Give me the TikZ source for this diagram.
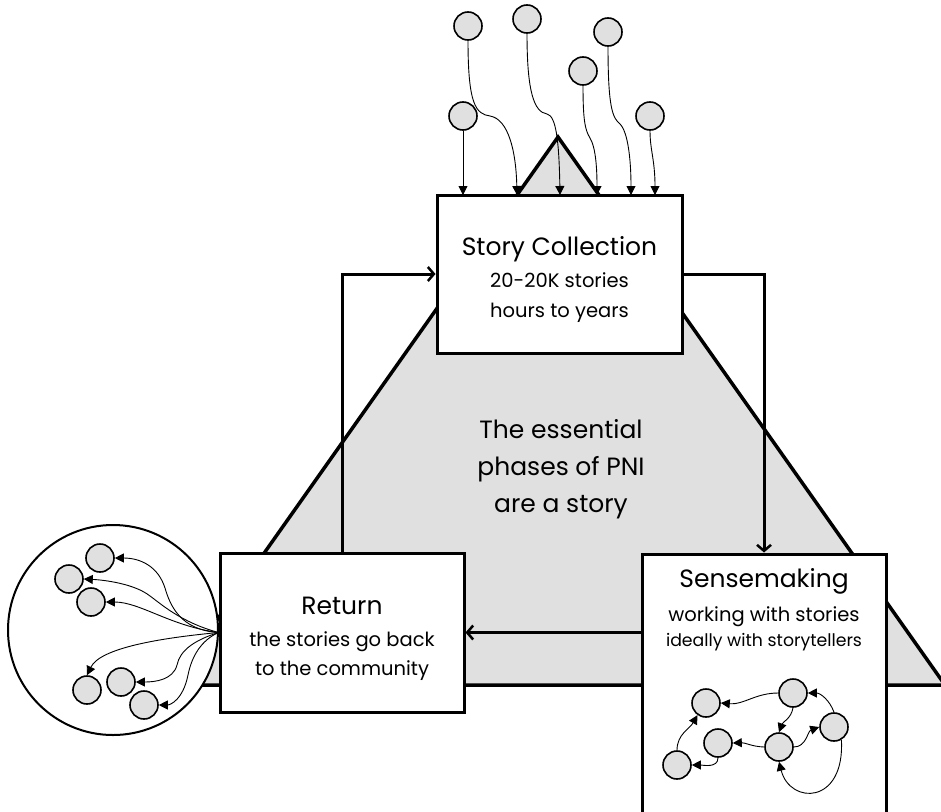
\documentclass[tikz,border=0pt]{standalone}
\usepackage{fontspec}
\setmainfont{Poppins}
\usetikzlibrary{arrows.meta,calc}
\definecolor{fillgray}{RGB}{224,224,224}
\tikzset{
  phasebox/.style={draw=black, fill=white, line width=3pt, rectangle, inner sep=0pt},
  flow/.style={line width=3pt, -{Straight Barb[length=6pt,width=14pt,line width=2.5pt]}},
  story/.style={circle, draw=black, line width=1.6pt, fill=fillgray, minimum size=28pt, inner sep=0pt},
  tell/.style={line width=0.9pt, -{Triangle[length=9pt,width=9pt]}},
  title/.style={anchor=base, inner sep=0pt, font=\fontsize{25}{30}\selectfont},
  detail/.style={anchor=base, inner sep=0pt, font=\fontsize{19.5}{24}\selectfont},
  centreline/.style={anchor=base, inner sep=0pt, font=\fontsize{25}{30}\selectfont},
}
\begin{document}
\begin{tikzpicture}[x=1pt,y=-1pt]
\useasboundingbox (0,0) rectangle (941,811);
\begin{scope}
\clip (0,0) rectangle (941,811);

% the large triangle behind everything
\draw[line width=3.5pt, fill=fillgray, line join=miter] (171,685) -- (558,137) -- (945,685) -- cycle;

% community circle on the left
\node[circle, draw=black, fill=white, line width=2pt, minimum size=210pt, inner sep=0pt] (comm) at (113,630) {};

% the three phase boxes
\node[phasebox, minimum width=245pt, minimum height=158pt] (sc) at (559.5,274) {};
\node[phasebox, minimum width=244pt, minimum height=159pt] (ret) at (342,632.5) {};
\node[phasebox, minimum width=244pt, minimum height=300pt] (sm) at (764,704) {};

% box texts
\node[title]  (sc1) at ($(sc.center)+(0,-19)$) {Story Collection};
\node[detail] (sc2) at ($(sc.center)+(0,13)$) {20-20K stories};
\node[detail] (sc3) at ($(sc.center)+(0,43)$) {hours to years};
\node[title]  (ret1) at ($(ret.center)+(0,-18.5)$) {Return};
\node[detail] (ret2) at ($(ret.center)+(0,13.5)$) {the stories go back};
\node[detail] (ret3) at ($(ret.center)+(0,42.5)$) {to the community};
\node[title]  (sm1) at ($(sm.north)+(0,35)$) {Sensemaking};
\node[detail] (sm2) at ($(sm.north)+(0,69)$) {working with stories};
\node[detail, font=\fontsize{17.3}{22}\selectfont] (sm3) at ($(sm.north)+(0,94)$) {ideally with storytellers};

% centre text
\node[centreline] (c1) at (561,438) {The essential};
\node[centreline] (c2) at (561,475) {phases of PNI};
\node[centreline] (c3) at (561,512) {are a story};

% flow between the phases
\draw[flow] (sc.east) -| (sm.north);
\draw[flow] (sm.west |- ret.east) -- (ret.east);
\draw[flow] (ret.north) |- (sc.west);

% stories arriving at collection
\node[story] (t1) at (468,26) {};
\node[story] (t2) at (527,19) {};
\node[story] (t3) at (608,32) {};
\node[story] (t4) at (583,71) {};
\node[story] (t5) at (463,116) {};
\node[story] (t6) at (650,116) {};
\coordinate (e1) at (463,195);
\coordinate (e2) at (517,195);
\coordinate (e3) at (560,195);
\coordinate (e4) at (597,195);
\coordinate (e5) at (631,195);
\coordinate (e6) at (655,195);
\draw[tell] (t5.south) -- (e1);
\draw[tell] (t1.south) .. controls (468,105) and (476,114) .. (490,116) .. controls (508,119) and (516,150) .. (e2);
\draw[tell] (t2.south) .. controls (527,92) and (534,112) .. (547,114) .. controls (556,116) and (559,140) .. (e3);
\draw[tell] (t4.south) .. controls (583,120) and (585,130) .. (590,138) .. controls (596,148) and (597,170) .. (e4);
\draw[tell] (t3.south) .. controls (608,110) and (613,118) .. (620,124) .. controls (628,132) and (631,160) .. (e5);
\draw[tell] (t6.south) .. controls (650,150) and (655,160) .. (e6);

% stories going back to the community
\node[story] (ca) at (100,558) {};
\node[story] (cb) at (69,579) {};
\node[story] (cc) at (91,602) {};
\node[story] (cd) at (87,690) {};
\node[story] (ce) at (121,682) {};
\node[story] (cf) at (144,705) {};
\draw[tell] (ret.west) .. controls (180,630) and (170,605) .. (165,588) .. controls (158,566) and (140,558) .. (ca.east);
\draw[tell] (ret.west) .. controls (180,622) and (160,603) .. (150,596) .. controls (135,584) and (105,580) .. (cb.east);
\draw[tell] (ret.west) .. controls (170,626) and (140,602) .. (cc.east);
\draw[tell] (ret.west) .. controls (160,638) and (100,648) .. (cd.north);
\draw[tell] (ret.west) .. controls (195,640) and (180,650) .. (177,665) .. controls (173,680) and (155,682) .. (ce.east);
\draw[tell] (ret.west) .. controls (202,640) and (192,655) .. (188,675) .. controls (183,700) and (170,705) .. (cf.east);

% stories being worked with in sensemaking
\node[story] (s1) at (706,703) {};
\node[story] (s2) at (793,693) {};
\node[story] (s3) at (834,727) {};
\node[story] (s4) at (718,743) {};
\node[story] (s5) at (779,747) {};
\node[story] (s6) at (677,765) {};
\draw[tell] (s2.west) to[out=180,in=-5] (s1.east);
\draw[tell] (s2.south) to[out=-100,in=70] (s5.north);
\draw[tell] (s5.west) to[out=178,in=2] (s4.east);
\draw[tell] (s5.east) to[out=0,in=200] (s3.west);
\draw[tell] (s3.north) to[out=110,in=0] (s2.east);
\draw[tell] (s3.-60) .. controls (845,805) and (790,805) .. (s5.south);
\draw[tell] (s4.south) to[out=-90,in=0] (s6.east);
\draw[tell] (s6.north) to[out=90,in=-120] (s1.-125);
\end{scope}
\end{tikzpicture}
\end{document}
